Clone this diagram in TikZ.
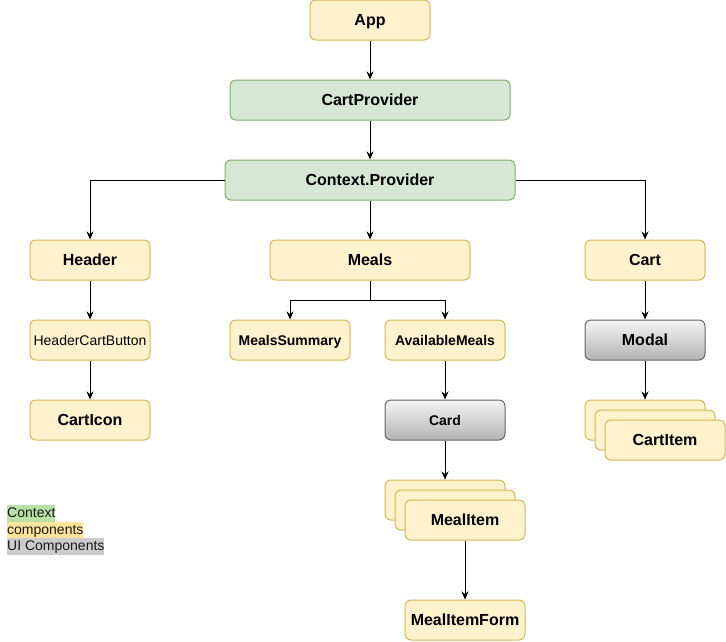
\documentclass[tikz,border=0pt]{standalone}
\usepackage{fontspec}
\setmainfont{Liberation Sans}
\usetikzlibrary{arrows.meta,positioning}
\definecolor{yfill}{HTML}{FFF2CC}
\definecolor{yline}{HTML}{D6B656}
\definecolor{gfill}{HTML}{D5E8D4}
\definecolor{gline}{HTML}{82B366}
\definecolor{uline}{HTML}{666666}
\definecolor{uitop}{HTML}{F5F5F5}
\definecolor{uibottom}{HTML}{B3B3B3}
\definecolor{lgreen}{HTML}{B9E0A5}
\definecolor{lyellow}{HTML}{FFE599}
\definecolor{lgray}{HTML}{CCCCCC}

\tikzset{
	comp/.style={rectangle,rounded corners=6pt,line width=1pt,minimum height=40pt,inner sep=0pt,text height=11.5pt,text depth=0pt,font=\bfseries\fontsize{16}{19}\selectfont},
	ycomp/.style={comp,draw=yline,fill=yfill},
	gcomp/.style={comp,draw=gline,fill=gfill},
	uicomp/.style={comp,draw=uline,top color=uitop,bottom color=uibottom},
	small/.style={text height=10pt,font=\bfseries\fontsize{14}{17}\selectfont},
	arr/.style={-{Stealth[length=8pt,width=7pt]},line width=1pt},
	legend/.style={anchor=west,inner sep=0pt,text height=12.5pt,text depth=4pt,font=\fontsize{14}{17}\selectfont,text=black!90}
}

\begin{document}
\begin{tikzpicture}[x=1pt,y=-1pt]
			\useasboundingbox (0,0) rectangle (726,641);
			
			\node[ycomp,minimum width=120pt] (app) at (370,20) {App};
			\node[gcomp,minimum width=280pt] (cartprov) at (370,100) {CartProvider};
			\node[gcomp,minimum width=290pt] (ctxprov) at (370,180) {Context.Provider};
			
			\node[ycomp,minimum width=120pt] (header) at (90,260) {Header};
			\node[ycomp,small,minimum width=120pt,font=\fontsize{14}{17}\selectfont] (hcbutton) at (90,340) {HeaderCartButton};
			\node[ycomp,minimum width=120pt] (carticon) at (90,420) {CartIcon};
			
			\node[ycomp,minimum width=200pt] (meals) at (370,260) {Meals};
			\coordinate (mealsfork) at (370,300);
			\node[ycomp,small,minimum width=120pt] (summary) at (290,340) {MealsSummary};
			\node[ycomp,small,minimum width=120pt] (avail) at (445,340) {AvailableMeals};
			\node[uicomp,small,minimum width=120pt] (card) at (445,420) {Card};
			\node[ycomp,minimum width=120pt] (mealA) at (445,500) {};
			\node[ycomp,minimum width=120pt] (mealB) at (455,510) {};
			\node[ycomp,minimum width=120pt] (mealC) at (465,520) {MealItem};
			\node[ycomp,minimum width=120pt] (form) at (465,620) {MealItemForm};
			
			\node[ycomp,minimum width=120pt] (cart) at (645,260) {Cart};
			\node[uicomp,minimum width=120pt] (modal) at (645,340) {Modal};
			\node[ycomp,minimum width=120pt] (cartA) at (645,420) {};
			\node[ycomp,minimum width=120pt] (cartB) at (655,430) {};
			\node[ycomp,minimum width=120pt] (cartC) at (665,440) {CartItem};
			
			\draw[arr] (app) -- (cartprov);
			\draw[arr] (cartprov) -- (ctxprov);
			\draw[arr] (ctxprov.west) -| (header);
			\draw[arr] (ctxprov) -- (meals);
			\draw[arr] (ctxprov.east) -| (cart);
			\draw[arr] (header) -- (hcbutton);
			\draw[arr] (hcbutton) -- (carticon);
			\draw[arr] (meals.south) -- (mealsfork) -| (summary);
			\draw[arr] (meals.south) -- (mealsfork) -| (avail);
			\draw[arr] (avail) -- (card);
			\draw[arr] (card) -- (mealA);
			\draw[arr] (mealC.south) -- (form.north);
			\draw[arr] (cart) -- (modal);
			\draw[arr] (modal) -- (cartA);
			
			\node[legend,fill=lgreen] (lctx) at (7,513.3) {Context};
			\node[legend,fill=lyellow] (lcomp) at (7,530) {components};
			\node[legend,fill=lgray] (lui) at (7,546.7) {UI Components};
		\end{tikzpicture}
\end{document}
